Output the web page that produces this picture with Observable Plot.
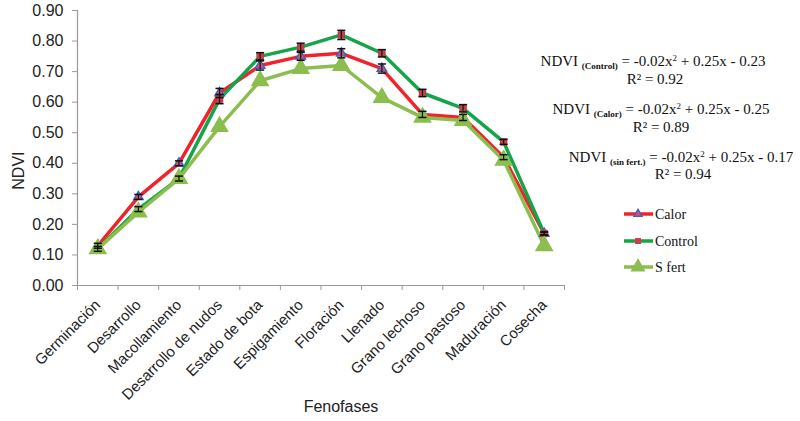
<!DOCTYPE html>
<html>
<head>
<meta charset="utf-8">
<script src="https://cdn.jsdelivr.net/npm/d3@7"></script>
<script src="https://cdn.jsdelivr.net/npm/@observablehq/plot@0.6"></script>
<style>
  body { margin: 0; background: #fff; }
  #wrap { position: relative; width: 800px; height: 421px; overflow: hidden; }
  #wrap svg { position: absolute; left: 0; top: 0; }
  .eq { position: absolute; font-family: "Liberation Serif", serif; font-size: 15px; color: #111; text-align: center; white-space: nowrap; width: 300px; }
  .eq sub { font-size: 9px; font-weight: bold; vertical-align: -3px; }
  .eq sup { font-size: 9px; vertical-align: 5px; }
</style>
</head>
<body>
<div id="wrap"></div>
<script>
const categories = ["Germinación","Desarrollo","Macollamiento","Desarrollo de nudos","Estado de bota","Espigamiento","Floración","Llenado","Grano lechoso","Grano pastoso","Maduración","Cosecha"];
const calor   = [0.13, 0.29, 0.40, 0.63, 0.72, 0.75, 0.76, 0.71, 0.56, 0.55, 0.42, 0.17];
const control = [0.12, 0.25, 0.35, 0.61, 0.75, 0.78, 0.82, 0.76, 0.63, 0.58, 0.47, 0.17];
const sfert   = [0.12, 0.24, 0.35, 0.52, 0.67, 0.71, 0.72, 0.615, 0.55, 0.54, 0.41, 0.13];
const calorErr   = [0.008, 0.008, 0.008, 0.015, 0.015, 0.013, 0.015, 0.015, 0.01, 0.01, 0.008, 0.005];
const controlErr = [0.008, 0.008, 0.008, 0.015, 0.012, 0.013, 0.015, 0.012, 0.012, 0.012, 0.008, 0.005];
const yTicks = [0, 0.1, 0.2, 0.3, 0.4, 0.5, 0.6, 0.7, 0.8, 0.9];
const seriesNames = ["Calor", "Control", "S fert"];
const colors = {Calor: "#f0232a", Control: "#14a44a", "S fert": "#8cbd4f"};

const rows = (name, vals, errs) => vals.map((v, i) => ({series: name, i, v, e: errs ? errs[i] : 0}));
const dCalor = rows("Calor", calor, calorErr);
const dControl = rows("Control", control, controlErr);
const dSfert = rows("S fert", sfert, null);
const withErr = dCalor.concat(dControl);
const idx = categories.map((c, i) => i);
const halfTicks = d3.range(categories.length + 1).map(i => i - 0.5);
const capW = 0.1;

const chart = Plot.plot({
  width: 800, height: 421,
  marginLeft: 77, marginRight: 236, marginTop: 10, marginBottom: 136,
  style: {fontFamily: "Liberation Sans, Arial, sans-serif", fontSize: "15px", color: "#222", background: "transparent"},
  x: {domain: [-0.5, categories.length - 0.5]},
  y: {domain: [0, 0.9]},
  marks: [
    Plot.ruleX([-0.5], {stroke: "#999", strokeWidth: 1.2}),
    Plot.ruleY([0], {stroke: "#999", strokeWidth: 1.2}),
    Plot.axisY({ticks: yTicks, tickFormat: ".2f", tickSize: 5, tickPadding: 9, stroke: "#999", fontSize: 16, label: null}),
    Plot.text(["NDVI"], {x: -0.5, y: 0.376, dx: -59, rotate: -90, fontSize: 16, fill: "#222"}),
    Plot.axisX({ticks: halfTicks, tickFormat: () => "", tickSize: 5, stroke: "#999", label: null}),
    Plot.axisX({ticks: idx, tickFormat: i => categories[i], tickSize: 0, tickPadding: 17, tickRotate: -45, fontSize: 15, label: null}),
    Plot.text(["Fenofases"], {frameAnchor: "bottom", dy: 126, dx: 20, fontSize: 16, fill: "#222"}),
    Plot.line(dCalor, {x: "i", y: "v", stroke: colors.Calor, strokeWidth: 3.5}),
    Plot.line(dControl, {x: "i", y: "v", stroke: colors.Control, strokeWidth: 3.5}),
    Plot.line(dSfert, {x: "i", y: "v", stroke: colors["S fert"], strokeWidth: 3.5}),
    Plot.dot(dCalor, {x: "i", y: "v", symbol: "triangle", r: 3.6, fill: "#d05070", stroke: "#3a62c8", strokeWidth: 1.3}),
    Plot.dot(dControl, {x: "i", y: "v", symbol: "square", r: 3.6, fill: "#c8404a", stroke: "#b03a40", strokeWidth: 1}),
    Plot.dot(dSfert, {x: "i", y: "v", symbol: "triangle", r: 6, fill: colors["S fert"], stroke: colors["S fert"]}),
    Plot.ruleX(withErr, {x: "i", y1: d => d.v - d.e, y2: d => d.v + d.e, stroke: "#111", strokeWidth: 1.2}),
    Plot.link(withErr, {x1: d => d.i - capW, x2: d => d.i + capW, y1: d => d.v + d.e, y2: d => d.v + d.e, stroke: "#111", strokeWidth: 1.5}),
    Plot.link(withErr, {x1: d => d.i - capW, x2: d => d.i + capW, y1: d => d.v - d.e, y2: d => d.v - d.e, stroke: "#111", strokeWidth: 1.5})
  ]
});
const wrap = document.getElementById("wrap");
wrap.appendChild(chart);

const eqs = [
  {sub: "(Control)", rest: " = -0.02x<sup>2</sup> + 0.25x - 0.23", r2: "R² = 0.92", cx: 653, cx2: 655, top: 53, top2: 71},
  {sub: "(Calor)", rest: " = -0.02x<sup>2</sup> + 0.25x - 0.25", r2: "R² = 0.89", cx: 661, cx2: 661, top: 101, top2: 119},
  {sub: "(sin fert.)", rest: " = -0.02x<sup>2</sup> + 0.25x - 0.17", r2: "R² = 0.94", cx: 681, cx2: 683, top: 149, top2: 166}
];
eqs.forEach(e => {
  const a = document.createElement("div");
  a.className = "eq"; a.style.left = (e.cx - 150) + "px"; a.style.top = e.top + "px";
  a.innerHTML = "NDVI <sub>" + e.sub + "</sub>" + e.rest;
  wrap.appendChild(a);
  const b = document.createElement("div");
  b.className = "eq"; b.style.left = (e.cx2 - 150) + "px"; b.style.top = e.top2 + "px";
  b.textContent = e.r2;
  wrap.appendChild(b);
});

const legY = [214, 241, 267];
const legSvg = d3.select(wrap).append("svg").attr("width", 800).attr("height", 421).style("pointer-events", "none");
seriesNames.forEach((s, k) => {
  const y = legY[k];
  legSvg.append("line").attr("x1", 624).attr("x2", 653).attr("y1", y).attr("y2", y).attr("stroke", colors[s]).attr("stroke-width", 3.5);
  if (s === "Calor") legSvg.append("path").attr("d", d3.symbol(d3.symbolTriangle, 30)()).attr("transform", `translate(638,${y})`).attr("fill", "#d05070").attr("stroke", "#3a62c8").attr("stroke-width", 1.3);
  if (s === "Control") legSvg.append("rect").attr("x", 635).attr("y", y - 3).attr("width", 6).attr("height", 6).attr("fill", "#c8404a");
  if (s === "S fert") legSvg.append("path").attr("d", d3.symbol(d3.symbolTriangle, 100)()).attr("transform", `translate(638,${y})`).attr("fill", colors[s]);
  legSvg.append("text").attr("x", 655).attr("y", y + 5).attr("font-family", "Liberation Serif, serif").attr("font-size", 14).attr("fill", "#111").text(s);
});
</script>
</body>
</html>
